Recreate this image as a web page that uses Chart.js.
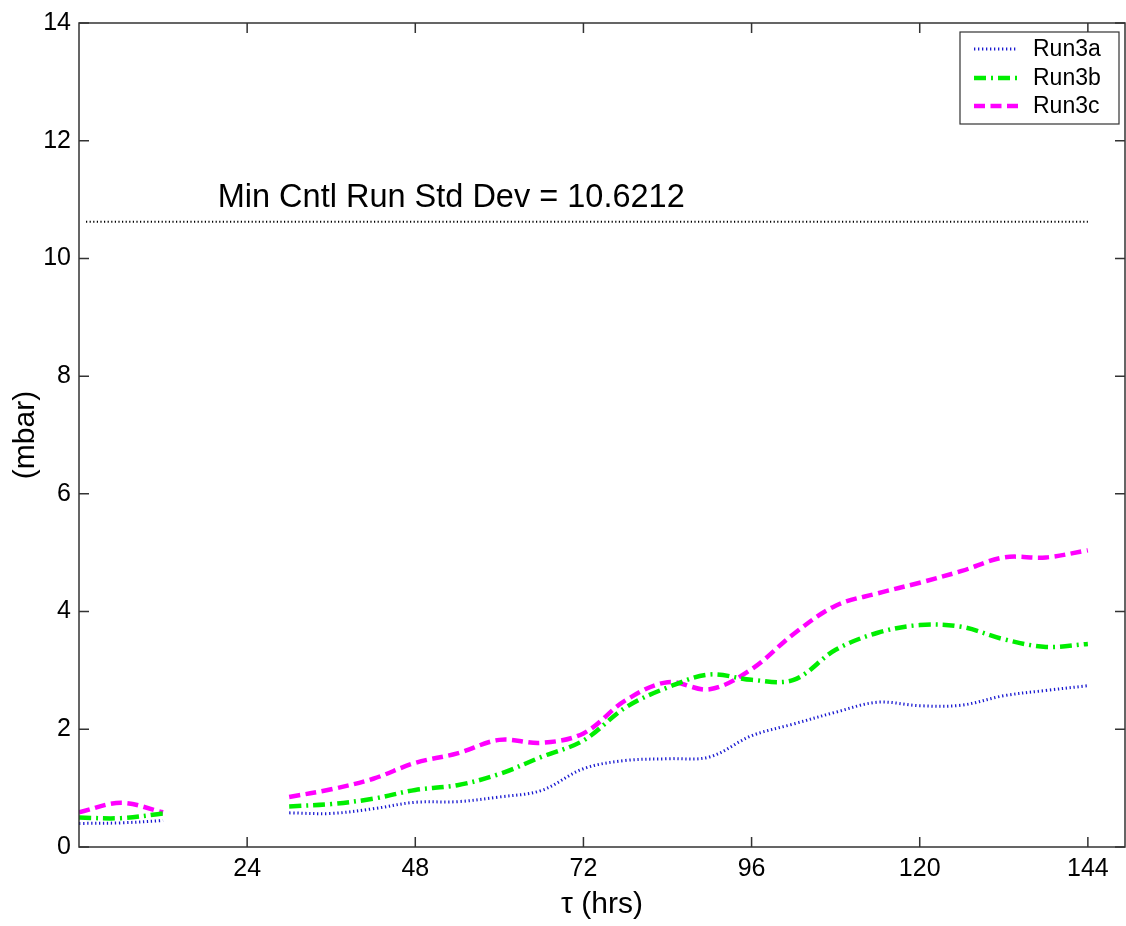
<!DOCTYPE html>
<html><head><meta charset="utf-8">
<script src="https://cdn.jsdelivr.net/npm/chart.js@4.4.0/dist/chart.umd.min.js"></script>
<style>html,body{margin:0;padding:0;background:#fff}#wrap{width:1126px;height:926px;position:relative}</style>
</head><body><div id="wrap"><canvas id="c"></canvas></div>
<script>
// ---- data ----
const hours = [0,6,12,18,24,30,36,42,48,54,60,66,72,78,84,90,96,102,108,114,120,126,132,138,144];
const run3a = [0.40,0.41,0.45,null,null,0.58,0.57,0.65,0.76,0.77,0.85,0.96,1.33,1.47,1.50,1.53,1.89,2.09,2.29,2.46,2.40,2.41,2.57,2.66,2.74];
const run3b = [0.50,0.49,0.57,null,null,0.69,0.73,0.82,0.97,1.05,1.24,1.53,1.81,2.37,2.71,2.93,2.84,2.84,3.35,3.64,3.77,3.74,3.53,3.40,3.45];
const run3c = [0.59,0.75,0.59,null,null,0.85,0.98,1.16,1.43,1.59,1.82,1.77,1.93,2.49,2.80,2.68,3.02,3.62,4.10,4.31,4.49,4.69,4.92,4.92,5.04];
const refHours = [1,144];
const refValue = 10.6212;
const refLabel = 'Min Cntl Run Std Dev = 10.6212';
const xTicks = [24,48,72,96,120,144];
const yTicks = [0,2,4,6,8,10,12,14];
const seriesNames = ['Run3a','Run3b','Run3c'];

const FONT = 'Arial, "Liberation Sans", Helvetica, sans-serif';
const pts = arr => hours.map((h,i)=>({x:h,y:arr[i]}));

const boxPlugin = {
  id:'boxPlugin',
  afterDraw(chart){
    const {ctx, chartArea:{left,right,top,bottom}, scales:{x,y}} = chart;
    ctx.save();
    ctx.strokeStyle = '#333';
    ctx.lineWidth = 1.5;
    ctx.strokeRect(left, top, right-left, bottom-top);
    ctx.beginPath();
    const L = 10;
    xTicks.forEach(v=>{
      const px = x.getPixelForValue(v);
      ctx.moveTo(px,bottom); ctx.lineTo(px,bottom-L);
      ctx.moveTo(px,top); ctx.lineTo(px,top+L);
    });
    yTicks.forEach(v=>{
      const py = y.getPixelForValue(v);
      ctx.moveTo(left,py); ctx.lineTo(left+L,py);
      ctx.moveTo(right,py); ctx.lineTo(right-L,py);
    });
    ctx.stroke();

    // annotation text
    ctx.fillStyle = '#000';
    ctx.font = '32.5px ' + FONT;
    ctx.textAlign = 'left';
    ctx.textBaseline = 'alphabetic';
    ctx.fillText(refLabel, x.getPixelForValue(19.8), y.getPixelForValue(10.88));

    // legend box
    const lx = 960, ly = 32, lw = 159, lh = 92;
    ctx.fillStyle = '#fff';
    ctx.fillRect(lx, ly, lw, lh);
    ctx.strokeStyle = '#333';
    ctx.lineWidth = 1.2;
    ctx.strokeRect(lx, ly, lw, lh);
    const rows = [49, 78, 106];
    chart.data.datasets.slice(0,3).forEach((ds,i)=>{
      const yy = rows[i];
      ctx.save();
      ctx.strokeStyle = ds.borderColor;
      ctx.lineWidth = ds.borderWidth;
      ctx.setLineDash(ds.borderDash || []);
      ctx.beginPath();
      ctx.moveTo(974, yy); ctx.lineTo(1018, yy);
      ctx.stroke();
      ctx.restore();
      ctx.fillStyle = '#000';
      ctx.font = '23px ' + FONT;
      ctx.textBaseline = 'middle';
      ctx.fillText(ds.label, 1033, yy+1);
    });
    ctx.restore();
  }
};

new Chart(document.getElementById('c'), {
  type:'line',
  data:{
    datasets:[
      {label:seriesNames[0], data:pts(run3a), borderColor:'#1a1ad0', borderWidth:3, borderDash:[1.3,2.7], pointRadius:0, tension:0.35, spanGaps:false, fill:false},
      {label:seriesNames[1], data:pts(run3b), borderColor:'#00ee00', borderWidth:4.5, borderDash:[12,5,2,5], pointRadius:0, tension:0.35, spanGaps:false, fill:false},
      {label:seriesNames[2], data:pts(run3c), borderColor:'#ff00ff', borderWidth:4.5, borderDash:[11,5.5], pointRadius:0, tension:0.35, spanGaps:false, fill:false},
      {label:'ref', data:refHours.map(h=>({x:h,y:refValue})), borderColor:'#000', borderWidth:2, borderDash:[1.2,2.4], pointRadius:0, tension:0, fill:false}
    ]
  },
  options:{
    responsive:true, maintainAspectRatio:false, animation:false,
    layout:{padding:{top:21,right:1,left:0,bottom:0}},
    plugins:{legend:{display:false}, tooltip:{enabled:false}},
    scales:{
      x:{type:'linear', min:0, max:149.3, position:'bottom',
        afterBuildTicks:s=>{ s.ticks = xTicks.map(v=>({value:v})); },
        afterFit:s=>{ s.height = 79; },
        ticks:{font:{family:FONT,size:25}, color:'#000', padding:7, maxRotation:0, autoSkip:false},
        grid:{display:false, drawTicks:false}, border:{display:false},
        title:{display:true, text:'τ (hrs)', font:{family:FONT,size:30}, color:'#000', padding:{top:0,bottom:3}}
      },
      y:{type:'linear', min:0, max:14,
        afterBuildTicks:s=>{ s.ticks = yTicks.map(v=>({value:v})); },
        afterFit:s=>{ s.width = 79; },
        ticks:{font:{family:FONT,size:25}, color:'#000', padding:8},
        grid:{display:false, drawTicks:false}, border:{display:false},
        title:{display:true, text:'(mbar)', font:{family:FONT,size:30}, color:'#000', padding:{top:8,bottom:0}}
      }
    }
  },
  plugins:[boxPlugin]
});
</script>
</body></html>
